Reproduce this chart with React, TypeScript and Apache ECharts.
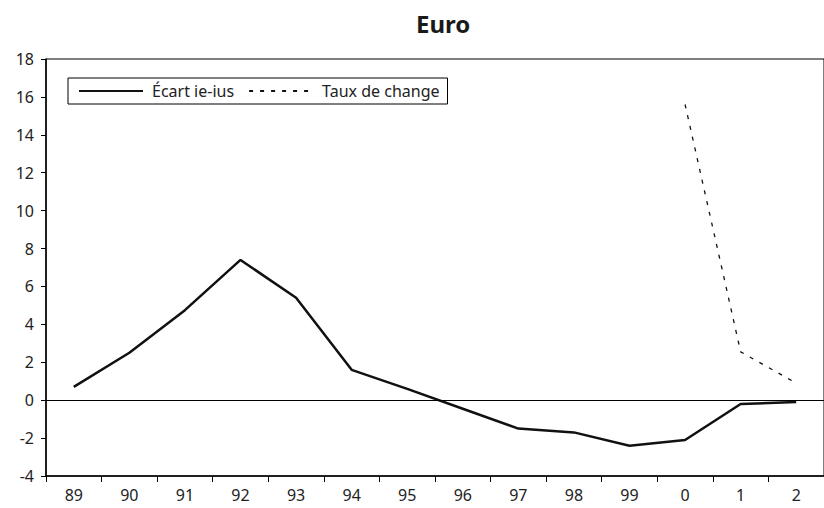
import React, { useEffect, useRef } from "react";
import * as echarts from "echarts";

const categories = ["89", "90", "91", "92", "93", "94", "95", "96", "97", "98", "99", "0", "1", "2"];
const ecartIeIus = [0.7, 2.5, 4.75, 7.4, 5.4, 1.6, 0.6, -0.45, -1.5, -1.7, -2.4, -2.1, -0.2, -0.1];
const tauxDeChange = [null, null, null, null, null, null, null, null, null, null, null, 15.6, 2.55, 0.9];
const seriesNames = ["Écart ie-ius", "Taux de change"];
const titleText = "Euro";

const FONT = "'Noto Sans', 'Open Sans', sans-serif";

export default function App() {
  const ref = useRef<HTMLDivElement>(null);
  useEffect(() => {
    const chart = echarts.init(ref.current!, null, { renderer: "svg" });
    chart.setOption({
      animation: false,
      textStyle: { fontFamily: FONT },
      title: {
        text: titleText,
        left: 411,
        top: 6,
        textStyle: { fontSize: 24, fontWeight: "bold", color: "#1a1a1a", fontFamily: FONT },
      },
      legend: {
        left: 68,
        top: 78,
        orient: "horizontal",
        data: seriesNames,
        itemWidth: 64,
        itemHeight: 10,
        itemGap: 14,
        padding: [5, 8, 5, 10],
        borderColor: "#000",
        borderWidth: 1,
        borderRadius: 0,
        itemStyle: { opacity: 0 },
        textStyle: { fontSize: 16, color: "#222", fontFamily: FONT, padding: [0, 0, 0, 4] },
      },
      grid: {
        left: 46,
        top: 59,
        bottom: 32,
        right: -6,
        show: true,
        borderColor: "#000",
        borderWidth: 1,
        backgroundColor: "transparent",
      },
      xAxis: {
        type: "category",
        data: categories,
        boundaryGap: true,
        axisLine: { onZero: false, lineStyle: { color: "#000", width: 1.5 } },
        axisTick: { show: true, length: 6, alignWithLabel: false, lineStyle: { color: "#000" } },
        axisLabel: { fontSize: 16, color: "#222", margin: 11, fontFamily: FONT },
        splitLine: { show: false },
      },
      yAxis: {
        type: "value",
        min: -4,
        max: 18,
        interval: 2,
        axisLine: { show: true, lineStyle: { color: "#000", width: 1.5 } },
        axisTick: { show: true, length: 5, lineStyle: { color: "#000" } },
        axisLabel: { fontSize: 16, color: "#222", margin: 12, fontFamily: FONT },
        splitLine: { show: false },
      },
      series: [
        {
          name: seriesNames[0],
          type: "line",
          data: ecartIeIus,
          symbol: "none",
          color: "#111",
          lineStyle: { color: "#111", width: 2.5 },
          markLine: {
            silent: true,
            symbol: "none",
            label: { show: false },
            lineStyle: { color: "#000", width: 1, type: "solid" },
            data: [{ yAxis: 0 }],
          },
        },
        {
          name: seriesNames[1],
          type: "line",
          data: tauxDeChange,
          symbol: "none",
          color: "#111",
          lineStyle: { color: "#111", width: 1.3, type: [4, 7] },
        },
      ],
    });
    return () => chart.dispose();
  }, []);
  return <div ref={ref} style={{ width: 824, height: 508, position: "absolute", left: 0, top: 0 }} />;
}
